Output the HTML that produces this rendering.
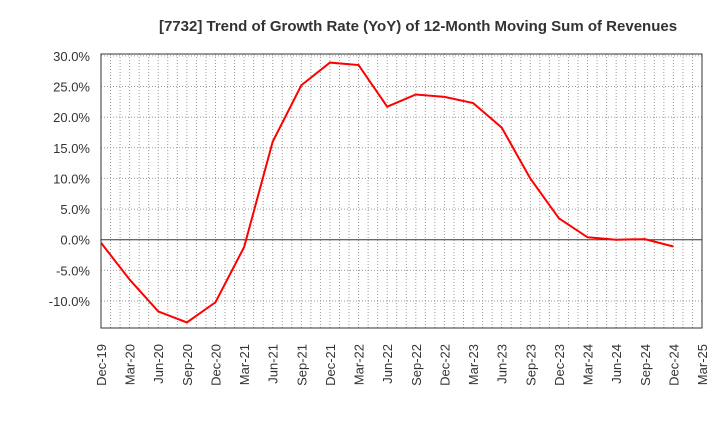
<!DOCTYPE html>
<html><head><meta charset="utf-8"><style>
body{margin:0;background:#fff;font-family:"Liberation Sans",sans-serif}
</style></head><body>
<svg id="c" width="720" height="440" xmlns="http://www.w3.org/2000/svg">
<text x="418" y="31" text-anchor="middle" font-size="15" font-weight="bold" fill="#333">[7732]  Trend of Growth Rate (YoY) of 12-Month Moving Sum of Revenues</text>
<g id="grid"></g><g id="axes"></g><g id="series"></g>
</svg>
<script>
const categories=["Dec-19","Mar-20","Jun-20","Sep-20","Dec-20","Mar-21","Jun-21","Sep-21","Dec-21","Mar-22","Jun-22","Sep-22","Dec-22","Mar-23","Jun-23","Sep-23","Dec-23","Mar-24","Jun-24","Sep-24","Dec-24","Mar-25"];
const values=[-0.5,-6.5,-11.7,-13.5,-10.2,-1.2,16.0,25.2,28.9,28.5,21.7,23.7,23.3,22.3,18.3,10.0,3.5,0.4,0.0,0.1,-1.1];
const yTicks=[30,25,20,15,10,5,0,-5,-10];
const L=101,R=702,T=54,B=328,yMin=-14.4,yMax=30.3;
const NS="http://www.w3.org/2000/svg";
const x=i=>L+(R-L)*i/(categories.length-1);
const y=v=>B-(v-yMin)/(yMax-yMin)*(B-T);
function mk(p,t,a){const e=document.createElementNS(NS,t);for(const k in a)e.setAttribute(k,a[k]);document.getElementById(p).appendChild(e);return e;}
const nm=(categories.length-1)*3;
for(let m=1;m<nm;m++){const xx=L+(R-L)*m/nm;
const g=mk("grid","line",{x1:xx,x2:xx,y1:T,y2:B,stroke:"#999","stroke-dasharray":"1,2"});

}
yTicks.forEach(v=>{const g=mk("grid","line",{x1:L,x2:R,y1:y(v),y2:y(v),stroke:v===0?"#333":"#999","stroke-dasharray":v===0?"":"1,2"});


const t=mk("axes","text",{x:L-11,y:y(v)+5,"text-anchor":"end","font-size":"13",fill:"#333"});t.textContent=v.toFixed(1)+"%";

});
const fr=mk("axes","rect",{x:L,y:T,width:R-L,height:B-T,fill:"none",stroke:"#333"});


categories.forEach((c,i)=>{const t=mk("axes","text",{transform:`translate(${x(i)+5},${B+16}) rotate(-90)`,"text-anchor":"end","font-size":"13",fill:"#333"});t.textContent=c;

});
const p=mk("series","polyline",{points:values.map((v,i)=>x(i)+","+y(v)).join(" "),fill:"none",stroke:"#f00","stroke-width":"2"});


</script>
</body></html>
